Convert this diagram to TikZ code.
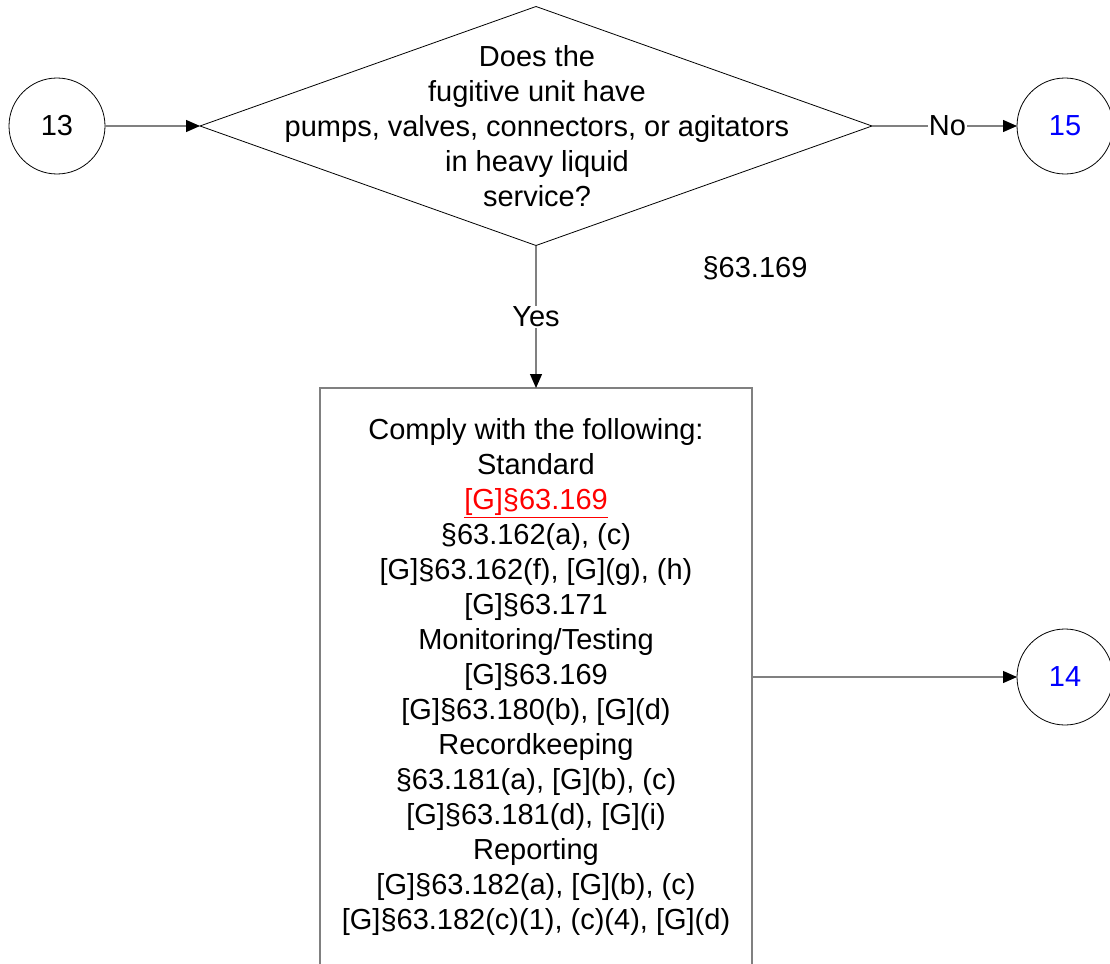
\documentclass[tikz,border=0pt]{standalone}
\usepackage{fontspec}
\setmainfont{Liberation Sans}
\usetikzlibrary{shapes.geometric,arrows.meta}
\definecolor{lgray}{RGB}{128,128,128}
\definecolor{blu}{RGB}{0,0,255}
\definecolor{rd}{RGB}{255,0,0}
\begin{document}
\begin{tikzpicture}[x=1pt,y=-1pt,
  every node/.style={font=\fontsize{29}{35}\selectfont},
  circ/.style={circle, draw=black, line width=0.8pt, minimum size=96pt, inner sep=0pt, outer sep=0pt},
  decision/.style={diamond, draw=black, line width=0.8pt, minimum width=672pt, minimum height=239pt, inner sep=0pt, outer sep=0pt},
  actbox/.style={draw=lgray, line width=1.2pt, minimum width=432pt, minimum height=578pt, align=center, inner sep=0pt, outer sep=0pt},
  conn/.style={draw=lgray, line width=1.2pt, -{Triangle[length=14pt,width=12pt,color=black]}},
  lbl/.style={fill=white, inner sep=1pt}]
\useasboundingbox (0,0) rectangle (1110,963);
\clip (0,0) rectangle (1110,963);
\node[circ] (c13) at (57,126) {13};
\node[circ] (c15) at (1065,126) {\textcolor{blu}{15}};
\node[circ] (c14) at (1065,677) {\textcolor{blu}{14}};
\node[decision] (q) at (536,126) {};
\node[align=center] (qt) at (537,126) {Does the\\fugitive unit have\\pumps, valves, connectors, or agitators\\in heavy liquid\\service?};
\node (ref) at (755,268) {§63.169};
\node[actbox] (box) at (536,677) {Comply with the following:\\Standard\\\textcolor{rd}{\underline{[G]§63.169}}\\§63.162(a), (c)\\{[G]}§63.162(f), [G](g), (h)\\{[G]}§63.171\\Monitoring/Testing\\{[G]}§63.169\\{[G]}§63.180(b), [G](d)\\Recordkeeping\\§63.181(a), [G](b), (c)\\{[G]}§63.181(d), [G](i)\\Reporting\\{[G]}§63.182(a), [G](b), (c)\\{[G]}§63.182(c)(1), (c)(4), [G](d)};
\draw[conn] (c13) -- (q.west);
\draw[conn] (q.east) -- node[lbl, pos=0.52] {No} (c15);
\draw[conn] (q.south) -- node[lbl] {Yes} (box.north);
\draw[conn] (box.east |- c14) -- (c14);
\end{tikzpicture}
\end{document}
